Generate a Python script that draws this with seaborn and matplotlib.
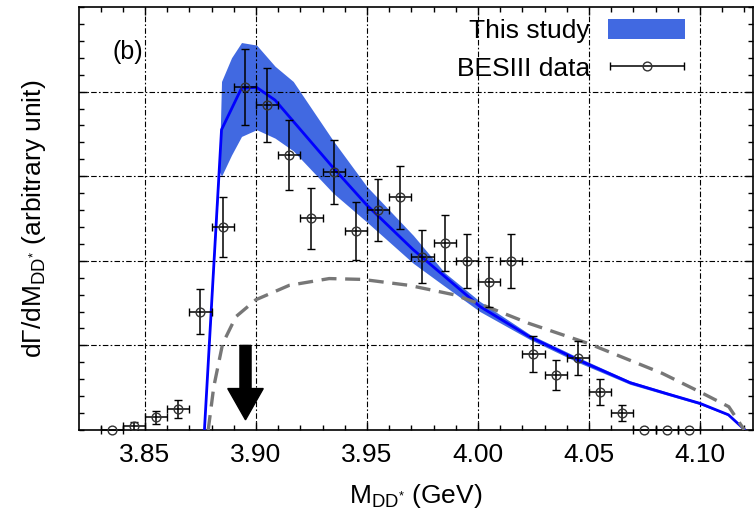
import numpy as np
import pandas as pd
import matplotlib
matplotlib.use("Agg")
import matplotlib.pyplot as plt
import seaborn as sns
from matplotlib.ticker import MultipleLocator
from matplotlib.legend_handler import HandlerErrorbar
from matplotlib.container import ErrorbarContainer

# ---------------- data ----------------
# BESIII data points (with vertical error bars)
data_x = [3.845, 3.855, 3.865, 3.875, 3.885, 3.895, 3.905, 3.915, 3.925, 3.935,
          3.945, 3.955, 3.965, 3.975, 3.985, 3.995, 4.005, 4.015, 4.025, 4.035,
          4.045, 4.055, 4.065]
data_y = [0.05, 0.15, 0.25, 1.40, 2.40, 4.05, 3.84, 3.25, 2.50, 3.05,
          2.35, 2.60, 2.75, 2.05, 2.21, 2.00, 1.75, 2.00, 0.90, 0.65,
          0.85, 0.45, 0.20]
data_yerr = [0.05, 0.08, 0.11, 0.27, 0.35, 0.45, 0.44, 0.41, 0.355, 0.38,
             0.34, 0.365, 0.37, 0.31, 0.33, 0.32, 0.30, 0.32, 0.21, 0.18,
             0.20, 0.15, 0.09]
# BESIII points at zero (no vertical error)
zero_x = [3.835, 4.075, 4.085, 4.095]
zero_y = [0.0, 0.0, 0.0, 0.0]
bin_half = 0.005

# "This study" central curve
line_x = [3.8768, 3.8845, 3.8935, 3.9003, 3.9086, 3.9348, 3.9499, 3.9709,
          4.0009, 4.0234, 4.0450, 4.0685, 4.0850, 4.1000, 4.1128, 4.1203]
line_y = [0.00, 3.55, 4.04, 4.05, 3.90, 3.10, 2.66, 2.13,
          1.46, 1.10, 0.83, 0.56, 0.43, 0.315, 0.18, 0.00]

# "This study" uncertainty band
band_x = [3.8768, 3.8836, 3.8845, 3.8890, 3.8935, 3.9003, 3.9086, 3.9168,
          3.9348, 3.9499, 3.9709, 3.9850, 4.0009, 4.0234, 4.0450, 4.0685,
          4.1000, 4.1128, 4.1203]
band_hi = [0.00, 3.20, 4.12, 4.40, 4.58, 4.55, 4.30, 4.12,
           3.42, 2.88, 2.30, 1.86, 1.52, 1.13, 0.86, 0.58,
           0.33, 0.19, 0.00]
band_lo = [0.00, 3.05, 3.00, 3.25, 3.47, 3.55, 3.45, 3.30,
           2.80, 2.46, 1.97, 1.70, 1.40, 1.07, 0.80, 0.54,
           0.30, 0.17, 0.00]

# grey dashed curve
dash_x = [3.8785, 3.8810, 3.8850, 3.8910, 3.9000, 3.9150, 3.9330, 3.9480,
          3.9690, 3.9890, 4.0000, 4.0230, 4.0500, 4.0830, 4.1000, 4.1130, 4.1200]
dash_y = [0.00, 0.51, 1.02, 1.34, 1.54, 1.71, 1.79, 1.78,
          1.71, 1.60, 1.50, 1.26, 1.02, 0.67, 0.45, 0.275, 0.00]

xtick_vals = [3.85, 3.90, 3.95, 4.00, 4.05, 4.10]
xtick_labels = ["3.85", "3.90", "3.95", "4.00", "4.05", "4.10"]
ytick_vals = [1, 2, 3, 4]

# arrow marking position
arrow_x = 3.8953
arrow_top = 1.0
arrow_tip = 0.12

# ---------------- style ----------------
sns.set_theme(style="ticks")
plt.rcParams["font.family"] = ["Liberation Sans", "DejaVu Sans"]
plt.rcParams.update({
    "mathtext.fontset": "custom",
    "mathtext.rm": "Liberation Sans",
    "mathtext.it": "Liberation Sans:italic",
    "mathtext.bf": "Liberation Sans:bold",
    "mathtext.sf": "Liberation Sans",
    "text.color": "black",
    "axes.labelcolor": "black",
    "xtick.color": "black",
    "ytick.color": "black",
})

FS = 19
fig = plt.figure(figsize=(7.54, 5.12), dpi=100)
ax = fig.add_axes([79 / 754, 82 / 512, 674 / 754, 423 / 512])

band = ax.fill_between(band_x, band_lo, band_hi, color="royalblue", lw=0, zorder=1)

df_line = pd.DataFrame({"x": line_x, "y": line_y})
sns.lineplot(data=df_line, x="x", y="y", color="blue", lw=2.0, ax=ax, zorder=3)
df_dash = pd.DataFrame({"x": dash_x, "y": dash_y})
sns.lineplot(data=df_dash, x="x", y="y", color="#777777", lw=2.4, ax=ax, zorder=3)
ax.lines[-1].set_linestyle((0, (4.5, 2.6)))

ekw = dict(fmt="o", ms=6.3, mfc="none", mec="#333333", mew=1.0, ecolor="black",
           elinewidth=1.1, capsize=2.6, capthick=1.1, zorder=4)
ax.errorbar(data_x, data_y, xerr=bin_half, yerr=data_yerr, **ekw)
eb0 = ax.errorbar(zero_x, zero_y, xerr=bin_half, **ekw)
for art in eb0.get_children():
    art.set_clip_on(False)

ax.arrow(arrow_x, arrow_top, 0, arrow_tip - arrow_top, width=0.005,
         head_width=0.016, head_length=0.37, length_includes_head=True,
         fc="black", ec="black", zorder=5)

ax.text(3.8423, 4.47, "(b)", fontsize=18, ha="center", va="center")

ax.set_xlim(3.8203, 4.1239)
ax.set_ylim(0, 5.0)
ax.set_xticks(xtick_vals)
ax.set_xticklabels(xtick_labels)
ax.xaxis.set_minor_locator(MultipleLocator(0.01))
ax.set_yticks(ytick_vals)
ax.yaxis.set_minor_locator(MultipleLocator(0.2))
ax.tick_params(which="both", direction="in", top=True, right=True,
               labelleft=False, labelsize=FS, pad=9, width=1.0)
ax.tick_params(which="major", length=6)
ax.tick_params(which="minor", length=3.5)

ax.set_axisbelow(False)
ax.grid(True, which="major", color="black", lw=0.8, linestyle=(0, (5, 2, 1.5, 2)))

for sp in ax.spines.values():
    sp.set_color("black")
    sp.set_linewidth(1.2)

ax.set_xlabel(r"M$_{\mathrm{DD^{*}}}$ (GeV)", fontsize=FS)
ax.set_ylabel("d\u0393/dM$_{\\mathrm{DD^{*}}}$ (arbitrary unit)", fontsize=FS)
ax.xaxis.set_label_coords(0.5, -0.124)
ax.yaxis.set_label_coords(-0.046, 0.5)

leg = ax.legend([band, eb0], ["This study", "BESIII data"], loc="upper right",
                bbox_to_anchor=(0.899, 0.972), frameon=False, markerfirst=False,
                fontsize=FS, handlelength=2.9, handleheight=0.8, handletextpad=0.7,
                labelspacing=0.5, borderpad=0, borderaxespad=0,
                handler_map={ErrorbarContainer: HandlerErrorbar(xerr_size=1.4)})

fig.savefig("out.png", dpi=100)
